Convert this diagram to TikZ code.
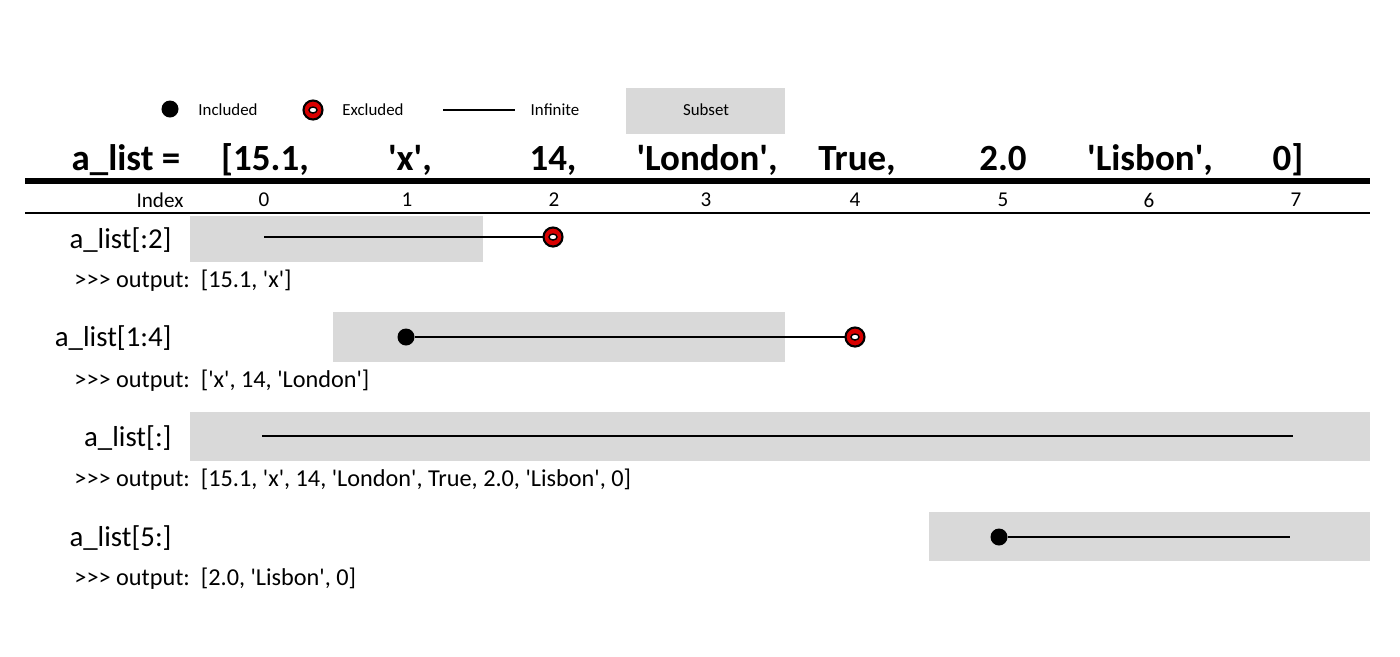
\documentclass[tikz,border=0pt]{standalone}
\usepackage{fontspec}
\setmainfont{Carlito}
\newcommand{\q}{\textquotesingle}
\newcommand{\gtt}{{>}{>}{>}}
\begin{document}
\begin{tikzpicture}[x=0.01cm,y=-0.01cm,
 sub/.style={fill=black!15,draw=none},
 inc/.style={circle,fill=black,inner sep=0,minimum size=0.17cm},
 exc/.style={circle,fill=red!85!black,draw=black,line width=0.6pt,inner sep=0,minimum size=0.19cm},
 seg/.style={line width=0.7pt},
 hdr/.style={font=\fontsize{10.5}{11}\selectfont\bfseries,anchor=base},
 idx/.style={font=\fontsize{6}{6}\selectfont},
 lbl/.style={font=\fontsize{8.2}{9}\selectfont,anchor=east},
 outtxt/.style={font=\fontsize{6.9}{7}\selectfont,anchor=west},
 leg/.style={font=\fontsize{4.8}{5}\selectfont}]
\useasboundingbox (0,0) rectangle (1400,656);
\newcommand{\excl}[2]{\node[exc] (#1) at #2 {}; \fill[white,draw=black,line width=0.4pt] #2 ellipse (4 and 3);}
% legend
\node[inc] (li) at (170,109) {};
\node[leg] (lit) at (228,110) {Included};
\excl{le}{(313,110)}
\node[leg] (let) at (373,110) {Excluded};
\coordinate (la) at (443,110); \coordinate (lb) at (515,110);
\draw[seg] (la) -- (lb);
\node[leg] (lft) at (555,110) {Infinite};
\fill[sub] (626,88) rectangle (785,134);
\node[leg] (ls) at (706,110) {Subset};
% header
\node[hdr] at (126,170) {a\_list =};
\node[hdr] at (265,170) {[15.1,};
\node[hdr] at (410,170) {\q x\q ,};
\node[hdr] at (553,170) {14,};
\node[hdr] at (707,170) {\q London\q ,};
\node[hdr] at (857,170) {True,};
\node[hdr] at (1003,170) {2.0};
\node[hdr] at (1150,170) {\q Lisbon\q ,};
\node[hdr] at (1288,170) {0]};
\draw[line width=1.5pt] (25,181) -- (1370,181);
\node[idx] at (160,200) {Index};
\foreach \i/\x in {0/264,1/407,2/554,3/706,4/855,5/1003,6/1149,7/1296}
  \node[idx] at (\x,200) {\i};
\draw[line width=0.6pt] (25,213) -- (1370,213);
% row 1
\fill[sub] (190,216) rectangle (483,262);
\node[lbl] at (184,240) {a\_list[:2]};
\coordinate (s1) at (264,237);
\draw[seg] (s1) -- (553,237);
\excl{e1}{(553,237)}
\node[outtxt] at (62,281) {\gtt\ output:\ \ [15.1, \q x\q ]};
% row 2
\fill[sub] (333,312) rectangle (785,362);
\node[lbl] at (184,338) {a\_list[1:4]};
\node[inc] (d2) at (406,337) {};
\draw[seg] (d2) -- (855,337);
\excl{e2}{(855,337)}
\node[outtxt] at (62,381) {\gtt\ output:\ \ [\q x\q , 14, \q London\q ]};
% row 3
\fill[sub] (190,412) rectangle (1370,461);
\node[lbl] at (184,438) {a\_list[:]};
\coordinate (a3) at (262,436); \coordinate (b3) at (1293,436);
\draw[seg] (a3) -- (b3);
\node[outtxt] at (62,480) {\gtt\ output:\ \ [15.1, \q x\q , 14, \q London\q , True, 2.0, \q Lisbon\q , 0]};
% row 4
\fill[sub] (929,512) rectangle (1370,561);
\node[lbl] at (184,538) {a\_list[5:]};
\node[inc] (d4) at (999,537) {};
\coordinate (b4) at (1290,537);
\draw[seg] (d4) -- (b4);
\node[outtxt] at (62,579) {\gtt\ output:\ \ [2.0, \q Lisbon\q , 0]};
\end{tikzpicture}
\end{document}
